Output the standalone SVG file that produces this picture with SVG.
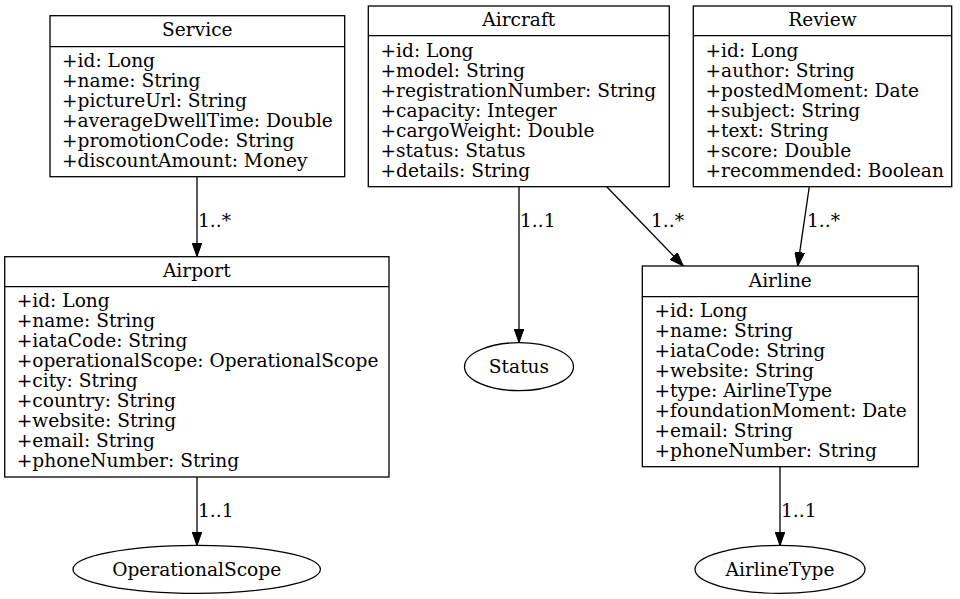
<svg xmlns="http://www.w3.org/2000/svg" width="960" height="599" viewBox="0 0 960 599">
<defs>
<style>
.box{fill:#fff;stroke:#000;stroke-width:1.3}
.t{font-family:"DejaVu Serif",serif;font-size:18.6px;fill:#000}
.c{text-anchor:middle}
.e{fill:none;stroke:#000;stroke-width:1.3}
.lbl{font-family:"DejaVu Serif",serif;font-size:18.6px;fill:#000}
</style>
<marker id="arr" markerWidth="14" markerHeight="10" refX="14" refY="5" orient="auto" markerUnits="userSpaceOnUse">
<path d="M0,0 L14,5 L0,10 z" fill="#000" stroke="#000" stroke-width="1"/>
</marker>
</defs>
<rect width="960" height="599" fill="#fff"/>
<g id="connectors">
<path class="e" d="M197,177 L197,256.5" marker-end="url(#arr)"/>
<text class="lbl" x="198" y="227">1..*</text>
<path class="e" d="M519,186.7 L519,342.5" marker-end="url(#arr)"/>
<text class="lbl" x="520" y="227">1..1</text>
<path class="e" d="M606.7,186.7 L683.3,266" marker-end="url(#arr)"/>
<text class="lbl" x="651" y="227">1..*</text>
<path class="e" d="M809.3,186.7 L797.7,266" marker-end="url(#arr)"/>
<text class="lbl" x="807" y="227">1..*</text>
<path class="e" d="M197,477 L197,545.5" marker-end="url(#arr)"/>
<text class="lbl" x="198" y="517">1..1</text>
<path class="e" d="M780,467 L780,545.5" marker-end="url(#arr)"/>
<text class="lbl" x="781" y="517">1..1</text>
</g>
<g id="Service">
<rect class="box" x="50" y="15.7" width="294.7" height="161"/>
<line class="e" x1="50" y1="46.7" x2="344.7" y2="46.7"/>
<text class="t c" x="197.3" y="36">Service</text>
<text class="t" x="62" y="66.7">+id: Long</text>
<text class="t" x="62" y="86.7">+name: String</text>
<text class="t" x="62" y="106.7">+pictureUrl: String</text>
<text class="t" x="62" y="126.7">+averageDwellTime: Double</text>
<text class="t" x="62" y="146.7">+promotionCode: String</text>
<text class="t" x="62" y="166.7">+discountAmount: Money</text>
</g>
<g id="Aircraft">
<rect class="box" x="368.3" y="6" width="301" height="180.7"/>
<line class="e" x1="368.3" y1="35.7" x2="669.3" y2="35.7"/>
<text class="t c" x="518.8" y="26">Aircraft</text>
<text class="t" x="380.5" y="56.7">+id: Long</text>
<text class="t" x="380.5" y="76.7">+model: String</text>
<text class="t" x="380.5" y="96.7">+registrationNumber: String</text>
<text class="t" x="380.5" y="116.7">+capacity: Integer</text>
<text class="t" x="380.5" y="136.7">+cargoWeight: Double</text>
<text class="t" x="380.5" y="156.7">+status: Status</text>
<text class="t" x="380.5" y="176.7">+details: String</text>
</g>
<g id="Review">
<rect class="box" x="693.3" y="6" width="258.4" height="180.7"/>
<line class="e" x1="693.3" y1="35.7" x2="951.7" y2="35.7"/>
<text class="t c" x="822.5" y="26">Review</text>
<text class="t" x="705.5" y="56.7">+id: Long</text>
<text class="t" x="705.5" y="76.7">+author: String</text>
<text class="t" x="705.5" y="96.7">+postedMoment: Date</text>
<text class="t" x="705.5" y="116.7">+subject: String</text>
<text class="t" x="705.5" y="136.7">+text: String</text>
<text class="t" x="705.5" y="156.7">+score: Double</text>
<text class="t" x="705.5" y="176.7">+recommended: Boolean</text>
</g>
<g id="Airport">
<rect class="box" x="4.7" y="256.7" width="384.3" height="220.3"/>
<line class="e" x1="4.7" y1="286.7" x2="389" y2="286.7"/>
<text class="t c" x="196.8" y="276.7">Airport</text>
<text class="t" x="16.7" y="306.7">+id: Long</text>
<text class="t" x="16.7" y="326.7">+name: String</text>
<text class="t" x="16.7" y="346.7">+iataCode: String</text>
<text class="t" x="16.7" y="366.7">+operationalScope: OperationalScope</text>
<text class="t" x="16.7" y="386.7">+city: String</text>
<text class="t" x="16.7" y="406.7">+country: String</text>
<text class="t" x="16.7" y="426.7">+website: String</text>
<text class="t" x="16.7" y="446.7">+email: String</text>
<text class="t" x="16.7" y="466.7">+phoneNumber: String</text>
</g>
<g id="Airline">
<rect class="box" x="642.3" y="266" width="276" height="200.7"/>
<line class="e" x1="642.3" y1="296.7" x2="918.3" y2="296.7"/>
<text class="t c" x="780.3" y="286.7">Airline</text>
<text class="t" x="654.5" y="316.7">+id: Long</text>
<text class="t" x="654.5" y="336.7">+name: String</text>
<text class="t" x="654.5" y="356.7">+iataCode: String</text>
<text class="t" x="654.5" y="376.7">+website: String</text>
<text class="t" x="654.5" y="396.7">+type: AirlineType</text>
<text class="t" x="654.5" y="416.7">+foundationMoment: Date</text>
<text class="t" x="654.5" y="436.7">+email: String</text>
<text class="t" x="654.5" y="456.7">+phoneNumber: String</text>
</g>
<g id="Status">
<ellipse class="box" cx="519" cy="366.7" rx="54.5" ry="24"/>
<text class="t c" x="519" y="372.5">Status</text>
</g>
<g id="OperationalScope">
<ellipse class="box" cx="196.7" cy="569.3" rx="123.7" ry="24"/>
<text class="t c" x="196.7" y="575.5">OperationalScope</text>
</g>
<g id="AirlineType">
<ellipse class="box" cx="780" cy="569.3" rx="85" ry="24"/>
<text class="t c" x="780" y="575.5">AirlineType</text>
</g>
</svg>
